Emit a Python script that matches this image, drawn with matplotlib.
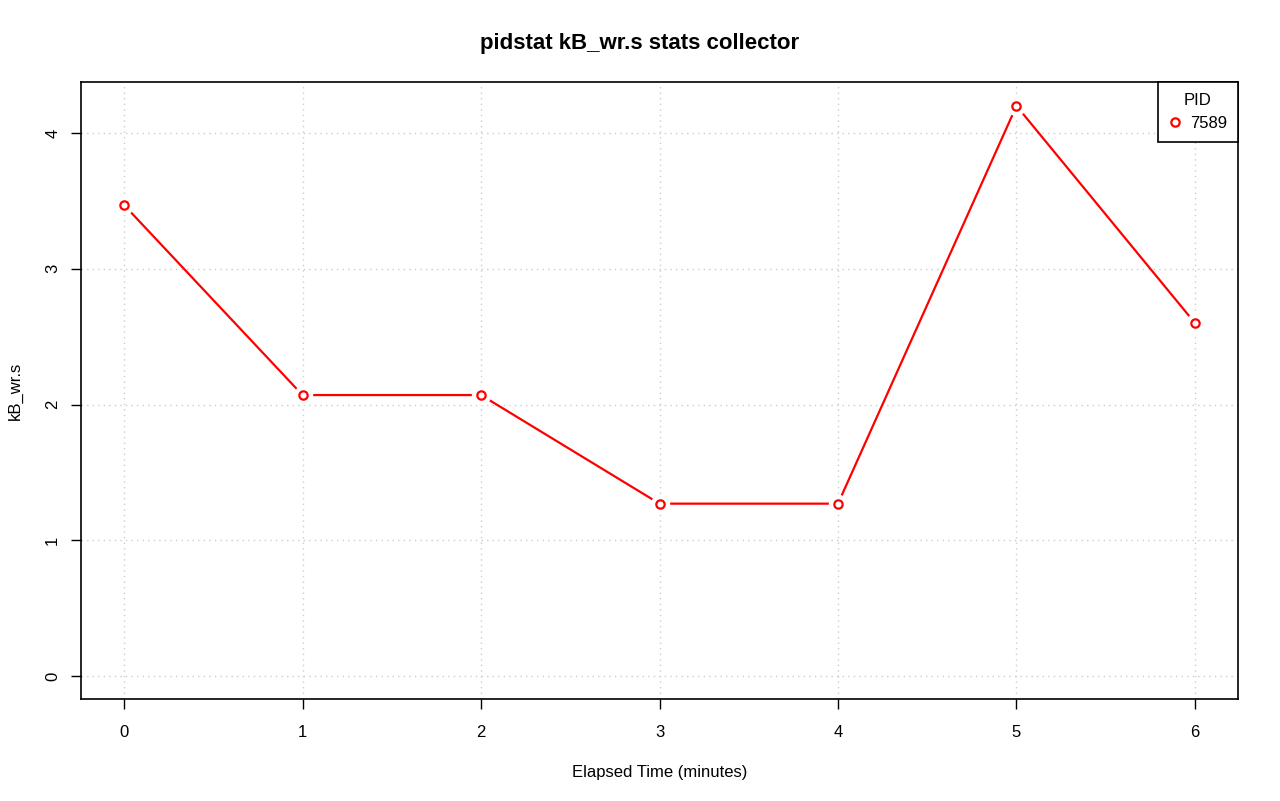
import matplotlib
matplotlib.use("Agg")
import matplotlib.pyplot as plt
from matplotlib.lines import Line2D

plt.rcParams['font.family'] = ['Liberation Sans', 'DejaVu Sans']

minutes = [0, 1, 2, 3, 4, 5, 6]
kb_wr_s = [3.47, 2.07, 2.07, 1.27, 1.27, 4.2, 2.6]
pid_label = "7589"
y_ticks = [0, 1, 2, 3, 4]

fig = plt.figure(figsize=(12.8, 8.01), dpi=100)
ax = fig.add_axes([81/1280, 1-699/801, (1238-81)/1280, (699-82)/801])

ax.plot(minutes, kb_wr_s, color='red', lw=1.6, zorder=2)
ax.plot(minutes, kb_wr_s, ls='none', marker='o', ms=14, mfc='white', mec='none', zorder=3)
ax.plot(minutes, kb_wr_s, ls='none', marker='o', ms=6, mfc='white', mec='red', mew=1.6, zorder=4)

ax.set_xlim(-0.241, 6.241)
ax.set_ylim(-0.169, 4.376)
ax.set_xticks(minutes)
ax.set_yticks(y_ticks)
ax.set_yticklabels([str(v) for v in y_ticks], rotation=90, va='center')
ax.grid(True, color='#cccccc', ls=(0, (1, 3)), lw=1.0)
ax.set_axisbelow(True)
for s in ax.spines.values():
    s.set_linewidth(1.2)
ax.tick_params(axis='x', labelsize=12, length=7, width=1, pad=12)
ax.tick_params(axis='y', labelsize=12, length=7, width=1, pad=8)

ax.set_xlabel("Elapsed Time (minutes)", fontsize=12, labelpad=18)
ax.set_ylabel("kB_wr.s", fontsize=12, labelpad=16)
fig.text(0.5, 1-44/801, "pidstat kB_wr.s stats collector", ha='center', va='center',
         fontsize=16, fontweight='bold')

handle = Line2D([], [], ls='none', marker='o', ms=6, mfc='white', mec='red', mew=1.6)
leg = ax.legend([handle], [pid_label], title="PID", loc='upper right',
                bbox_to_anchor=(1.0, 1.0), borderaxespad=0, fancybox=False,
                framealpha=1, edgecolor='black', fontsize=12, title_fontsize=12,
                handlelength=0.8, handletextpad=0.5, borderpad=0.65,
                labelspacing=0.5)
leg.get_frame().set_linewidth(1.2)

fig.savefig("out.png", dpi=100)
